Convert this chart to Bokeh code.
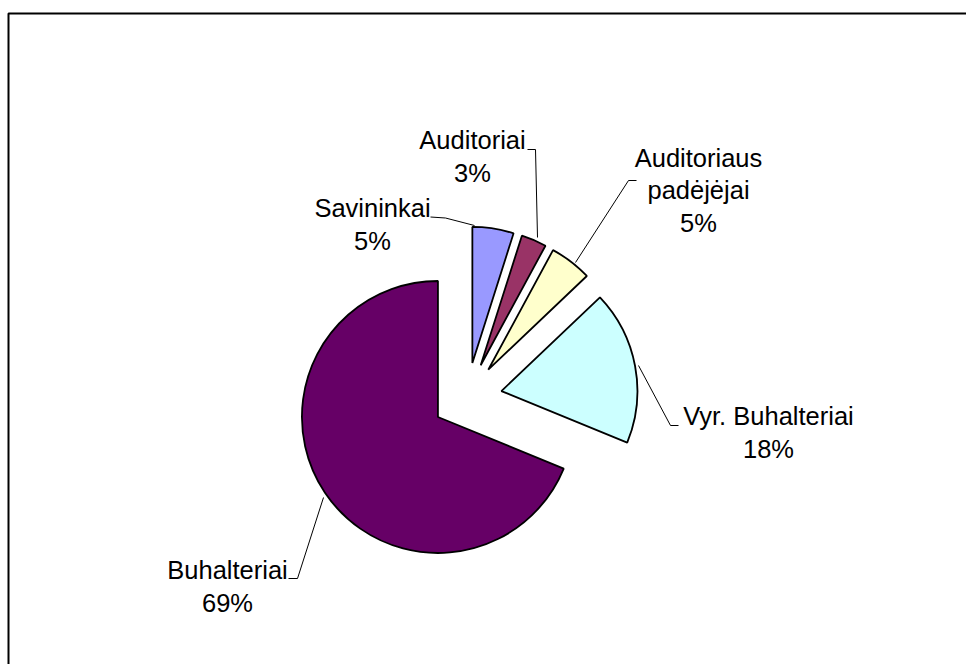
import math
from bokeh.plotting import figure
from bokeh.models import Range1d, ColumnDataSource
from bokeh.core.properties import value
from bokeh.embed import file_html
from bokeh.resources import INLINE

# ---- data ----
categories = ["Savininkai", "Auditoriai", "Auditoriaus padėjėjai", "Vyr. Buhalteriai", "Buhalteriai"]
values = [4.9, 3.0, 5.0, 18.3, 68.8]
label_lines = [["Savininkai"], ["Auditoriai"], ["Auditoriaus", "padėjėjai"], ["Vyr. Buhalteriai"], ["Buhalteriai"]]
colors = ["#9999FF", "#993366", "#FFFFCC", "#CCFFFF", "#660066"]

# ---- layout (screen pixel coordinates, y down) ----
W, H = 966, 664
CX, CY = 466.5, 397.0
R = 136
EXPLODE = 35

# label anchor: center x, baselines of each line (last line is the percentage)
label_x = [372, 472, 698, 768, 227]
label_base = [[207, 240.5], [139.5, 172], [157, 189.5, 222], [415, 448.5], [569, 602.5]]
leaders = [
    [(430, 216.5), (445, 217.5), (474, 225)],
    [(527, 149), (535, 149), (537, 237)],
    [(636, 180), (628, 180), (575, 262)],
    [(638, 365), (670, 425), (678, 425)],
    [(323, 497), (297, 578), (288, 578)],
]


def fy(y):
    return H - y


p = figure(width=W, height=H, x_range=Range1d(0, W), y_range=Range1d(0, H),
           x_axis_type=None, y_axis_type=None, min_border=0,
           toolbar_location=None, output_backend="svg")
p.grid.visible = False
p.outline_line_color = None
p.background_fill_color = "white"
p.border_fill_color = "white"

# chart frame
p.quad(left=[8], right=[W + 50], top=[fy(13)], bottom=[-50],
       fill_color=None, line_color="black", line_width=2)

# wedges
total = sum(values)
cum = 0.0
xs, ys, sa, ea = [], [], [], []
for v in values:
    t1 = cum / total * 360.0
    t2 = (cum + v) / total * 360.0
    mid = math.radians((t1 + t2) / 2)
    xs.append(CX + EXPLODE * math.sin(mid))
    ys.append(fy(CY - EXPLODE * math.cos(mid)))
    sa.append(math.radians(90 - t2))
    ea.append(math.radians(90 - t1))
    cum += v

src = ColumnDataSource(dict(x=xs, y=ys, start=sa, end=ea, color=colors, cat=categories))
p.wedge(x="x", y="y", radius=R, start_angle="start", end_angle="end",
        direction="anticlock", fill_color="color", line_color="black",
        line_width=1.8, source=src)

# leader lines
p.multi_line(xs=[[pt[0] for pt in l] for l in leaders],
             ys=[[fy(pt[1]) for pt in l] for l in leaders],
             line_color="black", line_width=1)

# labels
tx, ty, tt = [], [], []
for i, v in enumerate(values):
    lines = label_lines[i] + ["%d%%" % round(v / total * 100)]
    for j, s in enumerate(lines):
        tx.append(label_x[i])
        ty.append(fy(label_base[i][j]))
        tt.append(s)
p.text(x=tx, y=ty, text=tt, text_align="center", text_baseline="alphabetic",
       text_font=value("Liberation Sans"), text_font_size="25.5px", text_color="black")

open("out.html", "w").write(file_html(p, INLINE))
